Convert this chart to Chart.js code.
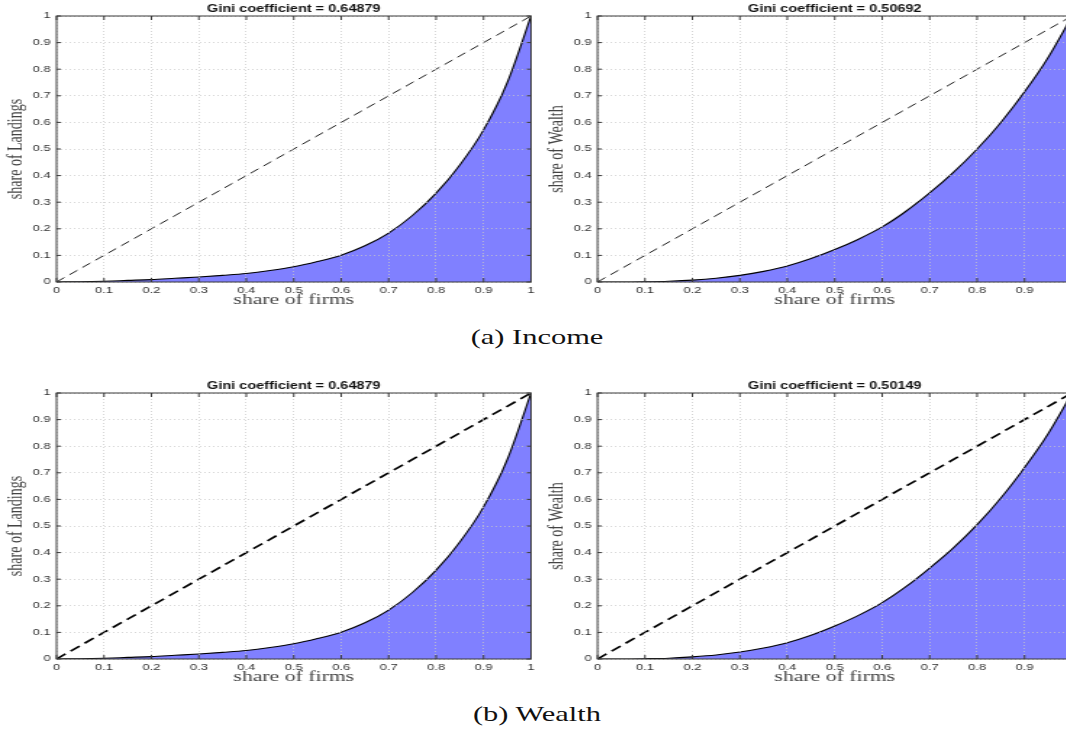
<!DOCTYPE html>
<html lang="en">
<head>
    <meta charset="UTF-8">
    <title>Lorenz curves</title>
    <script src="https://cdn.jsdelivr.net/npm/chart.js"></script>
    <style>
        html, body { margin: 0; padding: 0; background: #fff; }
        body { width: 1066px; height: 734px; overflow: hidden; position: relative; }
        canvas { position: absolute; }
        .caption {
            position: absolute; left: 437px; width: 200px; text-align: center;
            font-family: "Liberation Serif", serif; font-size: 21px; line-height: 24px;
            color: #111; transform: scaleX(1.45); transform-origin: center;
        }
    </style>
</head>
<body>
    <!-- figure was stretched horizontally, so canvases are drawn narrow and widened by css -->
    <canvas id="c1" width="372" height="310" style="left:0px;top:0px;width:539px;height:310px"></canvas>
    <canvas id="c2" width="372" height="310" style="left:541px;top:0px;width:539px;height:310px"></canvas>
    <canvas id="c3" width="372" height="310" style="left:0px;top:377px;width:539px;height:310px"></canvas>
    <canvas id="c4" width="372" height="310" style="left:541px;top:377px;width:539px;height:310px"></canvas>
    <div class="caption" style="top:325px">(a) Income</div>
    <div class="caption" style="top:702px">(b) Wealth</div>
    <script>
        const shareFirms = [0, 0.05, 0.1, 0.15, 0.2, 0.25, 0.3, 0.35, 0.4, 0.45, 0.5,
                            0.55, 0.6, 0.65, 0.7, 0.75, 0.8, 0.85, 0.9, 0.95, 1];

        const landingsIncome = [0, 0.001, 0.003, 0.006, 0.009, 0.014, 0.019, 0.025, 0.032, 0.043, 0.057,
                                0.077, 0.101, 0.136, 0.184, 0.25, 0.334, 0.44, 0.572, 0.75, 1];
        const wealthIncome = [0, 0, 0.001, 0.003, 0.007, 0.014, 0.025, 0.04, 0.06, 0.088, 0.122,
                              0.161, 0.207, 0.266, 0.335, 0.412, 0.5, 0.6, 0.715, 0.845, 1];
        const landingsWealth = [0, 0.001, 0.003, 0.006, 0.009, 0.014, 0.019, 0.025, 0.032, 0.043, 0.057,
                                0.077, 0.101, 0.136, 0.184, 0.25, 0.334, 0.44, 0.572, 0.75, 1];
        const wealthWealth = [0, 0, 0.001, 0.003, 0.008, 0.015, 0.026, 0.041, 0.061, 0.089, 0.124,
                              0.164, 0.212, 0.272, 0.342, 0.418, 0.505, 0.605, 0.72, 0.848, 1];

        const equalityX = [0, 1];
        const equalityY = [0, 1];

        const giniValues = ['0.64879', '0.50692', '0.64879', '0.50149'];
        const yTitles = ['share of Landings', 'share of Wealth', 'share of Landings', 'share of Wealth'];
        const xTitle = 'share of firms';

        // box round the plot area plus small inward ticks, like matlab axes
        const boxPlugin = {
            id: 'box',
            afterDraw(chart) {
                const { ctx, chartArea: a, scales } = chart;
                ctx.save();
                ctx.strokeStyle = '#3a3a3a';
                ctx.lineWidth = 1;
                ctx.strokeRect(a.left, a.top, a.right - a.left, a.bottom - a.top);
                ctx.beginPath();
                scales.x.ticks.forEach(t => {
                    const px = scales.x.getPixelForValue(t.value);
                    ctx.moveTo(px, a.bottom); ctx.lineTo(px, a.bottom - 4);
                    ctx.moveTo(px, a.top); ctx.lineTo(px, a.top + 4);
                });
                scales.y.ticks.forEach(t => {
                    const py = scales.y.getPixelForValue(t.value);
                    ctx.moveTo(a.left, py); ctx.lineTo(a.left + 3, py);
                    ctx.moveTo(a.right, py); ctx.lineTo(a.right - 3, py);
                });
                ctx.stroke();
                ctx.restore();
            }
        };

        const tickText = v => String(Math.round(v * 10) / 10);

        function makePanel(id, curve, idx, thickDash) {
            const ctx = document.getElementById(id).getContext('2d');
            return new Chart(ctx, {
                type: 'line',
                data: {
                    datasets: [
                        {
                            data: shareFirms.map((x, i) => ({ x, y: curve[i] })),
                            borderColor: '#000',
                            borderWidth: 1.1,
                            backgroundColor: '#8080ff',
                            fill: 'origin',
                            pointRadius: 0,
                            cubicInterpolationMode: 'monotone',
                        },
                        {
                            data: equalityX.map((x, i) => ({ x, y: equalityY[i] })),
                            borderColor: '#000',
                            borderWidth: thickDash ? 1.7 : 0.9,
                            borderDash: thickDash ? [8, 4.5] : [7, 4.5],
                            pointRadius: 0,
                            fill: false,
                        }
                    ]
                },
                options: {
                    responsive: false,
                    animation: false,
                    layout: { padding: { left: 0, right: 3.5, top: 0, bottom: 0 } },
                    plugins: {
                        legend: { display: false },
                        tooltip: { enabled: false },
                        title: {
                            display: true,
                            fullSize: false,
                            text: 'Gini coefficient = ' + giniValues[idx],
                            color: '#111',
                            font: { family: 'Liberation Sans', size: 10, weight: 'bold' },
                            padding: { top: 3, bottom: 1 },
                        }
                    },
                    scales: {
                        x: {
                            type: 'linear',
                            min: 0,
                            max: 1,
                            afterFit: s => { s.height = 28; },
                            ticks: {
                                stepSize: 0.1,
                                padding: 3,
                                maxRotation: 0,
                                color: '#333',
                                font: { family: 'Liberation Sans', size: 9 },
                                callback: tickText,
                            },
                            grid: { z: 1, color: 'rgba(200,200,200,0.75)', drawTicks: false },
                            border: { display: false, dash: [1, 2] },
                            title: {
                                display: true,
                                text: xTitle,
                                color: '#444',
                                font: { family: 'Liberation Serif', size: 15 },
                                padding: { top: 0, bottom: 1 },
                            }
                        },
                        y: {
                            type: 'linear',
                            min: 0,
                            max: 1,
                            afterFit: s => { s.width = 39; },
                            ticks: {
                                stepSize: 0.1,
                                padding: 4,
                                color: '#333',
                                font: { family: 'Liberation Sans', size: 9 },
                                callback: tickText,
                            },
                            grid: { z: 1, color: 'rgba(200,200,200,0.75)', drawTicks: false },
                            border: { display: false, dash: [1, 2] },
                            title: {
                                display: true,
                                text: yTitles[idx],
                                color: '#444',
                                font: { family: 'Liberation Serif', size: 14 },
                                padding: { top: 3, bottom: 0 },
                            }
                        }
                    }
                },
                plugins: [boxPlugin]
            });
        }

        makePanel('c1', landingsIncome, 0, false);
        makePanel('c2', wealthIncome, 1, false);
        makePanel('c3', landingsWealth, 2, true);
        makePanel('c4', wealthWealth, 3, true);
    </script>
</body>
</html>
